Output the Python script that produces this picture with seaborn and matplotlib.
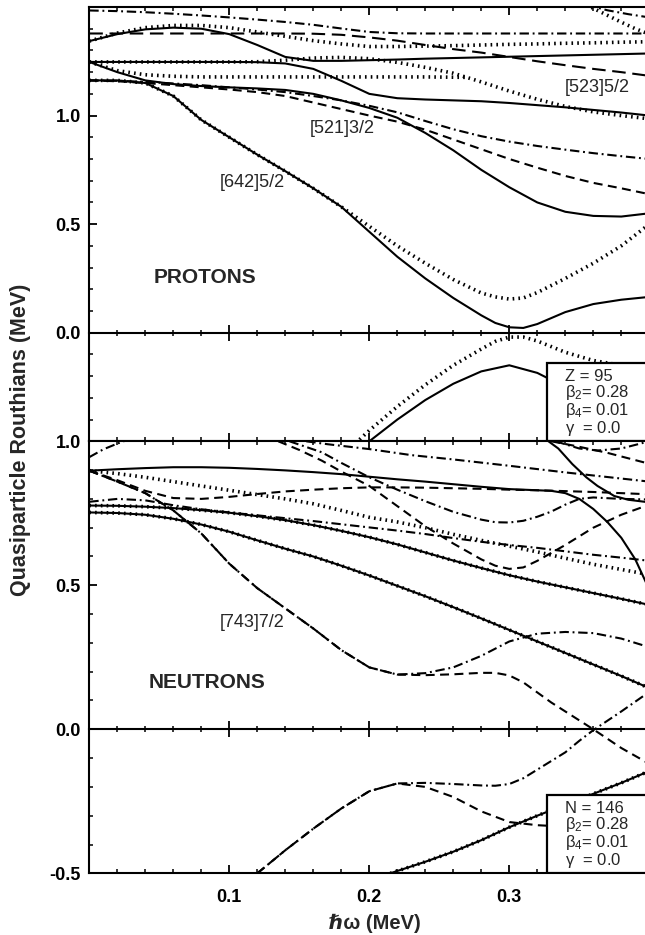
import numpy as np
import pandas as pd
import matplotlib
matplotlib.use("Agg")
import matplotlib.pyplot as plt
import seaborn as sns
from matplotlib.patches import Rectangle
from matplotlib.ticker import MultipleLocator, NullFormatter, FormatStrFormatter, FixedLocator

sns.set_theme(style="ticks")
plt.rcParams["font.family"] = ["Liberation Sans", "DejaVu Sans"]
plt.rcParams["mathtext.fontset"] = "custom"
plt.rcParams["mathtext.rm"] = "Liberation Sans"
plt.rcParams["mathtext.it"] = "Liberation Sans"
plt.rcParams["mathtext.bf"] = "Liberation Sans:bold"
plt.rcParams["axes.unicode_minus"] = False

# ---------------- data : rotational frequency grid (MeV) ----------------
W = [0.00, 0.02, 0.04, 0.06, 0.08, 0.10, 0.12, 0.14, 0.16, 0.18, 0.20,
     0.22, 0.24, 0.26, 0.28, 0.30, 0.32, 0.34, 0.36, 0.38, 0.40]

# ---------------- PROTONS (Z = 95) ----------------
p_u1_dashdot = [1.484, 1.481, 1.476, 1.469, 1.461, 1.452, 1.442, 1.431, 1.418, 1.401, 1.385,
                1.379, 1.378, 1.378, 1.378, 1.378, 1.378, 1.378, 1.378, 1.378, 1.378]
p_u2_dashed = [1.378, 1.378, 1.378, 1.378, 1.378, 1.378, 1.378, 1.378, 1.377, 1.372, 1.360,
               1.345, 1.325, 1.306, 1.290, 1.270, 1.250, 1.232, 1.215, 1.200, 1.183]
p_s1_solid = [1.343, 1.375, 1.397, 1.405, 1.400, 1.375, 1.325, 1.270, 1.252, 1.252, 1.255,
              1.258, 1.262, 1.265, 1.268, 1.271, 1.274, 1.277, 1.280, 1.283, 1.286]
p_d1_dotted = [1.343, 1.380, 1.405, 1.415, 1.415, 1.405, 1.385, 1.365, 1.345, 1.330, 1.318,
               1.318, 1.320, 1.322, 1.325, 1.328, 1.330, 1.333, 1.335, 1.338, 1.340]
p_s2_solid = [1.247, 1.247, 1.247, 1.247, 1.247, 1.247, 1.246, 1.240, 1.215, 1.160, 1.100,
              1.080, 1.074, 1.070, 1.066, 1.058, 1.048, 1.038, 1.026, 1.014, 1.000]
p_d2_dotted = [1.247, 1.247, 1.247, 1.247, 1.247, 1.247, 1.248, 1.255, 1.265, 1.268, 1.262,
               1.245, 1.222, 1.195, 1.155, 1.113, 1.075, 1.042, 1.017, 1.000, 0.985]
p_d3_x = [0.00, 0.02, 0.04, 0.06, 0.08, 0.12, 0.16, 0.20, 0.24, 0.27]
p_d3_dotted = [1.247, 1.207, 1.188, 1.181, 1.178, 1.178, 1.178, 1.178, 1.178, 1.176]
p_s3_solid = [1.247, 1.200, 1.162, 1.145, 1.136, 1.130, 1.125, 1.118, 1.100, 1.070, 1.035,
              0.990, 0.920, 0.840, 0.750, 0.670, 0.600, 0.557, 0.538, 0.535, 0.550]
p_n1_dashdot = [1.162, 1.160, 1.155, 1.148, 1.140, 1.130, 1.120, 1.108, 1.090, 1.070, 1.045,
                1.015, 0.975, 0.937, 0.905, 0.880, 0.860, 0.843, 0.827, 0.813, 0.800]
p_n2_dashed = [1.162, 1.158, 1.150, 1.140, 1.130, 1.120, 1.108, 1.090, 1.060, 1.030, 1.000,
               0.972, 0.935, 0.890, 0.845, 0.800, 0.760, 0.722, 0.690, 0.665, 0.638]
p642_x = [0.00, 0.02, 0.04, 0.06, 0.08, 0.10, 0.12, 0.14, 0.16, 0.18, 0.20, 0.22, 0.24,
          0.26, 0.28, 0.29, 0.30, 0.31, 0.32, 0.34, 0.36, 0.38, 0.40]
p642_solid = [1.162, 1.162, 1.150, 1.090, 0.980, 0.900, 0.820, 0.744, 0.665, 0.580, 0.465, 0.350,
              0.250, 0.160, 0.080, 0.045, 0.025, 0.022, 0.040, 0.095, 0.132, 0.152, 0.165]
p642_dotted = [1.162, 1.162, 1.150, 1.090, 0.980, 0.900, 0.820, 0.744, 0.665, 0.580, 0.490, 0.400,
               0.320, 0.245, 0.183, 0.165, 0.155, 0.160, 0.185, 0.250, 0.320, 0.400, 0.500]
pn_solid_x = [0.20, 0.22, 0.24, 0.26, 0.28, 0.30, 0.32, 0.34, 0.36, 0.38, 0.40]
pn_solid = [-0.500, -0.400, -0.310, -0.235, -0.178, -0.150, -0.185, -0.250, -0.320, -0.400, -0.500]
pn_dotted_x = [0.19, 0.20, 0.22, 0.24, 0.26, 0.28, 0.29, 0.30, 0.31, 0.32, 0.34, 0.36, 0.38, 0.40]
pn_dotted = [-0.510, -0.450, -0.340, -0.240, -0.150, -0.075, -0.040, -0.020, -0.020, -0.038,
             -0.090, -0.128, -0.150, -0.165]
p_tr1_x = [0.355, 0.370, 0.385, 0.400]
p_tr1_dashdot = [1.510, 1.485, 1.467, 1.452]
p_tr2_x = [0.355, 0.370, 0.380, 0.390, 0.400]
p_tr2_dotted = [1.510, 1.462, 1.430, 1.400, 1.375]

# ---------------- NEUTRONS (N = 146) ----------------
n_s1_x = [0.00, 0.02, 0.04, 0.06, 0.08, 0.10, 0.12, 0.14, 0.16, 0.18, 0.20, 0.22, 0.24, 0.26,
          0.28, 0.30, 0.32, 0.33, 0.34, 0.35, 0.36, 0.37, 0.38, 0.39, 0.40]
n_s1_solid = [0.898, 0.903, 0.907, 0.910, 0.910, 0.908, 0.904, 0.899, 0.893, 0.886, 0.877, 0.868,
              0.860, 0.851, 0.842, 0.834, 0.830, 0.828, 0.820, 0.800, 0.765, 0.720, 0.665, 0.590, 0.485]
n_d1_dotted = [0.898, 0.888, 0.875, 0.860, 0.845, 0.830, 0.815, 0.800, 0.783, 0.760, 0.736,
               0.720, 0.700, 0.677, 0.656, 0.636, 0.616, 0.594, 0.573, 0.555, 0.537]
n743_dash_x = [0.00, 0.02, 0.04, 0.06, 0.08, 0.10, 0.12, 0.14, 0.16, 0.18, 0.20, 0.22, 0.24,
               0.26, 0.28, 0.29, 0.30, 0.31, 0.32, 0.33, 0.34, 0.36, 0.38, 0.40]
n743_dashed = [0.898, 0.860, 0.820, 0.760, 0.680, 0.575, 0.490, 0.420, 0.350, 0.275, 0.215, 0.190,
               0.188, 0.191, 0.196, 0.196, 0.187, 0.163, 0.128, 0.093, 0.062, 0.000, -0.065, -0.120]
n743_dashdot = [0.898, 0.860, 0.820, 0.760, 0.680, 0.575, 0.490, 0.420, 0.350, 0.275, 0.215,
                0.190, 0.195, 0.215, 0.255, 0.305, 0.332, 0.338, 0.334, 0.315, 0.285]
n_h1_hatched = [0.777, 0.776, 0.773, 0.768, 0.761, 0.752, 0.740, 0.726, 0.709, 0.689, 0.667,
                0.642, 0.614, 0.586, 0.560, 0.535, 0.513, 0.493, 0.473, 0.453, 0.432]
n_h2_hatched = [0.753, 0.751, 0.745, 0.731, 0.711, 0.686, 0.656, 0.627, 0.600, 0.568, 0.534,
                0.498, 0.462, 0.424, 0.385, 0.345, 0.305, 0.265, 0.225, 0.185, 0.143]
n_l1_dashdot = [0.790, 0.800, 0.795, 0.778, 0.764, 0.753, 0.743, 0.733, 0.723, 0.712, 0.701,
                0.690, 0.678, 0.664, 0.651, 0.640, 0.630, 0.618, 0.606, 0.596, 0.585]
n_l2_dashed = [0.898, 0.865, 0.828, 0.803, 0.800, 0.807, 0.817, 0.826, 0.832, 0.837, 0.840,
               0.840, 0.839, 0.837, 0.835, 0.832, 0.830, 0.827, 0.824, 0.820, 0.816]
n_l3_x = [0.155, 0.170, 0.200, 0.230, 0.260, 0.300, 0.340, 0.370, 0.400]
n_l3_dashdot = [1.000, 0.990, 0.973, 0.952, 0.937, 0.915, 0.892, 0.876, 0.860]
n_l4_x = [0.143, 0.166, 0.180, 0.200, 0.220, 0.240, 0.260, 0.280, 0.290, 0.300, 0.310, 0.320,
          0.330, 0.340, 0.350, 0.360, 0.380, 0.400]
n_l4_dashdot = [1.000, 0.962, 0.925, 0.875, 0.832, 0.792, 0.755, 0.728, 0.719, 0.718, 0.724,
                0.738, 0.756, 0.780, 0.800, 0.805, 0.800, 0.798]
n_l7_x = [0.135, 0.150, 0.166, 0.180, 0.200, 0.220, 0.240, 0.260, 0.280, 0.290, 0.300, 0.310,
          0.320, 0.340, 0.360, 0.380, 0.400]
n_l7_dashed = [1.000, 0.970, 0.933, 0.895, 0.845, 0.775, 0.705, 0.645, 0.590, 0.568, 0.557,
               0.562, 0.585, 0.640, 0.700, 0.745, 0.780]
n_s2_x = [0.328, 0.335, 0.345, 0.355, 0.363, 0.375, 0.385, 0.400]
n_s2_solid = [1.000, 0.975, 0.921, 0.875, 0.845, 0.810, 0.797, 0.788]
n_l5_x = [0.330, 0.347, 0.370, 0.400]
n_l5_dashed = [1.000, 0.984, 0.960, 0.922]
n_l6_x = [0.333, 0.350, 0.363, 0.380, 0.400]
n_l6_dashdot = [1.000, 0.975, 0.968, 0.975, 1.000]
n_bn1_x = [0.000, 0.010, 0.020, 0.030]
n_bn1_dashdot = [0.945, 0.972, 0.992, 1.010]
nn_dd_x = [0.12, 0.14, 0.16, 0.18, 0.20, 0.22, 0.24, 0.26, 0.28, 0.29, 0.30, 0.31, 0.32, 0.33,
           0.34, 0.35, 0.36, 0.38, 0.40]
nn_dashdot = [-0.500, -0.420, -0.345, -0.275, -0.215, -0.188, -0.186, -0.190, -0.195, -0.196,
              -0.190, -0.170, -0.140, -0.110, -0.080, -0.040, -0.003, 0.062, 0.130]
nn_da_x = [0.12, 0.14, 0.16, 0.18, 0.20, 0.22, 0.24, 0.26, 0.28, 0.30, 0.32, 0.34, 0.36, 0.38, 0.40]
nn_dashed = [-0.500, -0.420, -0.345, -0.275, -0.215, -0.188, -0.200, -0.235, -0.285, -0.322,
             -0.333, -0.338, -0.334, -0.315, -0.285]
nn_h_x = [0.215, 0.24, 0.26, 0.28, 0.30, 0.32, 0.34, 0.36, 0.38, 0.40]
nn_hatched = [-0.500, -0.460, -0.425, -0.385, -0.340, -0.300, -0.262, -0.224, -0.186, -0.145]

# labels / text
proton_labels = [("[642]5/2", 0.1165, 0.693), ("[521]3/2", 0.181, 0.942), ("[523]5/2", 0.363, 1.130)]
neutron_labels = [("[743]7/2", 0.1165, 0.372)]
proton_box = ["Z = 95", r"$\beta_2$= 0.28", r"$\beta_4$= 0.01", r"$\gamma$  = 0.0"]
neutron_box = ["N = 146", r"$\beta_2$= 0.28", r"$\beta_4$= 0.01", r"$\gamma$  = 0.0"]

# ---------------- styles ----------------
LW = 1.5
STYLES = {
    "solid": dict(linewidth=LW, linestyle="-"),
    "dashed": dict(linewidth=LW, linestyle=(0, (4.3, 2.6))),
    "longdash": dict(linewidth=LW, linestyle=(0, (6.5, 3.2))),
    "dashdot": dict(linewidth=LW, linestyle=(0, (4.5, 1.8, 0.9, 1.8))),
    "dotted": dict(linewidth=2.6, linestyle=(0, (0.45, 1.15)), dash_capstyle="butt"),
}


def draw(ax, x, y, style):
    df = pd.DataFrame({"w": x, "e": y})
    sns.lineplot(data=df, x="w", y="e", ax=ax, color="black", sort=False,
                 estimator=None, legend=False, **STYLES[style])


fig = plt.figure(figsize=(6.45, 9.35), dpi=100)
L = 89.3 / 645
R = 649.3 / 645
ax1 = fig.add_axes([L, 1 - 441.3 / 935, R - L, (441.3 - 7) / 935])
ax2 = fig.add_axes([L, 1 - 873.3 / 935, R - L, (873.3 - 441.3) / 935])

# protons
draw(ax1, W, p_u1_dashdot, "dashdot")
draw(ax1, W, p_u2_dashed, "longdash")
draw(ax1, W, p_s1_solid, "solid")
draw(ax1, W, p_d1_dotted, "dotted")
draw(ax1, W, p_s2_solid, "solid")
draw(ax1, W, p_d2_dotted, "dotted")
draw(ax1, p_d3_x, p_d3_dotted, "dotted")
draw(ax1, W, p_s3_solid, "solid")
draw(ax1, W, p_n1_dashdot, "dashdot")
draw(ax1, W, p_n2_dashed, "dashed")
draw(ax1, p642_x, p642_solid, "solid")
draw(ax1, p642_x, p642_dotted, "dotted")
draw(ax1, pn_solid_x, pn_solid, "solid")
draw(ax1, pn_dotted_x, pn_dotted, "dotted")
draw(ax1, p_tr1_x, p_tr1_dashdot, "dashdot")
draw(ax1, p_tr2_x, p_tr2_dotted, "dotted")

# neutrons
draw(ax2, n_s1_x, n_s1_solid, "solid")
draw(ax2, W, n_d1_dotted, "dotted")
draw(ax2, n743_dash_x, n743_dashed, "dashed")
draw(ax2, W, n743_dashdot, "dashdot")
draw(ax2, W, n_h1_hatched, "solid")
draw(ax2, W, n_h1_hatched, "dotted")
draw(ax2, W, n_h2_hatched, "solid")
draw(ax2, W, n_h2_hatched, "dotted")
draw(ax2, W, n_l1_dashdot, "dashdot")
draw(ax2, W, n_l2_dashed, "dashed")
draw(ax2, n_l3_x, n_l3_dashdot, "dashdot")
draw(ax2, n_l4_x, n_l4_dashdot, "dashdot")
draw(ax2, n_l7_x, n_l7_dashed, "dashed")
draw(ax2, n_s2_x, n_s2_solid, "solid")
draw(ax2, n_l5_x, n_l5_dashed, "dashed")
draw(ax2, n_l6_x, n_l6_dashdot, "dashdot")
draw(ax2, n_bn1_x, n_bn1_dashdot, "dashdot")
draw(ax2, nn_dd_x, nn_dashdot, "dashdot")
draw(ax2, nn_da_x, nn_dashed, "dashed")
draw(ax2, nn_h_x, nn_hatched, "solid")
draw(ax2, nn_h_x, nn_hatched, "dotted")

# ---------------- axes cosmetics ----------------
ax1.set_ylim(-0.5, 1.5)
ax2.set_ylim(-0.5, 1.0)
for ax, zero_frac, yticks in [(ax1, 0.25, [0.0, 0.5, 1.0]), (ax2, 1 / 3, [-0.5, 0.0, 0.5, 1.0])]:
    ax.set_xlim(0.0, 0.4)
    ax.set_xlabel("")
    ax.set_ylabel("")
    for s in ax.spines.values():
        s.set_linewidth(1.5)
        s.set_color("black")
    ax.spines["right"].set_visible(False)
    ax.xaxis.set_major_locator(FixedLocator([0.1, 0.2, 0.3]))
    ax.xaxis.set_minor_locator(MultipleLocator(0.02))
    ax.yaxis.set_major_locator(FixedLocator(yticks))
    ax.yaxis.set_minor_locator(MultipleLocator(0.1))
    ax.yaxis.set_major_formatter(FormatStrFormatter("%.1f"))
    ax.tick_params(which="major", direction="in", length=5.5, width=1.3, top=True, right=False,
                   colors="black", labelsize=13, pad=6)
    ax.tick_params(which="minor", direction="in", length=3, width=1.1, top=True, right=False,
                   colors="black")
    ax.tick_params(axis="x", which="major", pad=11)
    for lab in ax.get_yticklabels() + ax.get_xticklabels():
        lab.set_fontweight("bold")
    # zero line with crossing ticks
    sec = ax.secondary_xaxis(zero_frac)
    sec.xaxis.set_major_locator(FixedLocator([0.1, 0.2, 0.3]))
    sec.xaxis.set_minor_locator(MultipleLocator(0.02))
    sec.xaxis.set_major_formatter(NullFormatter())
    sec.tick_params(which="major", direction="inout", length=11, width=1.3, colors="black")
    sec.tick_params(which="minor", direction="inout", length=5, width=1.1, colors="black")
    for s in sec.spines.values():
        s.set_linewidth(1.5)
        s.set_color("black")

ax1.tick_params(axis="x", labelbottom=False)
ax2.xaxis.set_major_formatter(FormatStrFormatter("%.1f"))
for lab in ax2.get_xticklabels():
    lab.set_fontweight("bold")

# parameter boxes (one multi-line text block each)
for ax, top, lines, ytext in [(ax1, -0.141, proton_box, -0.168),
                              (ax2, -0.229, neutron_box, -0.250)]:
    ax.add_patch(Rectangle((0.327, -0.5), 0.2, top + 0.5, facecolor="white", edgecolor="black",
                           linewidth=1.6, zorder=5))
    ax.text(0.340, ytext, "\n".join(lines), fontsize=12, ha="left", va="top",
            linespacing=0.92, zorder=6)

for t, xx, yy in proton_labels:
    ax1.text(xx, yy, t, fontsize=13, ha="center", va="center", zorder=4)
for t, xx, yy in neutron_labels:
    ax2.text(xx, yy, t, fontsize=13, ha="center", va="center", zorder=4)
ax1.text(0.0827, 0.256, "PROTONS", fontsize=15, fontweight="bold", ha="center", va="center")
ax2.text(0.084, 0.163, "NEUTRONS", fontsize=15, fontweight="bold", ha="center", va="center")

fig.text(21 / 645, 1 - 440 / 935, "Quasiparticle Routhians (MeV)", rotation=90,
         fontsize=15.5, fontweight="bold", ha="center", va="center")
fig.text(375 / 645, 1 - 923 / 935, "ℏω (MeV)", fontsize=14.5, fontweight="bold",
         ha="center", va="center")

fig.savefig("out.png", dpi=100)
